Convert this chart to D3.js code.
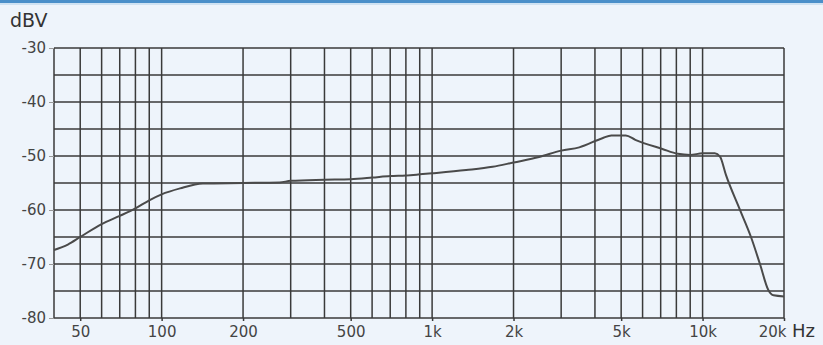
<!DOCTYPE html>
<html><head><meta charset="utf-8">
<script src="https://cdn.jsdelivr.net/npm/d3@7"></script>
<style>html,body{margin:0;padding:0;background:#eef4fb;}svg{display:block;}</style>
</head><body>
<script>
// Data
const freqs = [40, 45, 50, 60, 70, 80, 90, 100, 117, 142, 200, 273, 300, 400, 500, 600, 700, 800, 900, 1000, 1336, 1673, 2000, 2485, 3000, 3500, 4260, 4600, 5200, 5640, 7100, 8100, 9000, 10000, 11100, 11600, 12200, 13700, 15100, 16300, 17500, 18300, 20000];
const dbv = [-67.4, -66.4, -65.0, -62.6, -61.1, -59.7, -58.2, -57.1, -56.0, -55.1, -55.0, -54.9, -54.6, -54.4, -54.3, -54.0, -53.7, -53.6, -53.4, -53.2, -52.6, -52.0, -51.2, -50.2, -49.0, -48.4, -46.7, -46.2, -46.2, -47.0, -48.7, -49.6, -49.8, -49.5, -49.5, -50.1, -53.5, -59.8, -65.0, -70.0, -74.8, -75.8, -76.0];
const gridFreqs = [40, 50, 60, 70, 80, 90, 100, 200, 300, 400, 500, 600, 700, 800, 900, 1000, 2000, 3000, 4000, 5000, 6000, 7000, 8000, 9000, 10000, 20000];
const xTickVals = [50, 100, 200, 500, 1000, 2000, 5000, 10000, 20000];
const xTickLabels = ["50", "100", "200", "500", "1k", "2k", "5k", "10k", "20k"];
const yGrid = [-30, -35, -40, -45, -50, -55, -60, -65, -70, -75, -80];
const yTickVals = [-30, -40, -50, -60, -70, -80];

const W = 823, H = 345;
const svg = d3.select("body").append("svg").attr("width", W).attr("height", H);
svg.append("rect").attr("width", W).attr("height", H).attr("fill", "#eef4fb");
svg.append("rect").attr("width", W).attr("height", 3).attr("fill", "#4a8fc9");
svg.append("rect").attr("y", 3).attr("width", W).attr("height", 2).attr("fill", "#cfe2f2");

const x = d3.scaleLog().domain([40, 20000]).range([54, 784]);
const y = d3.scaleLinear().domain([-80, -30]).range([318, 48]);
const font = "'DejaVu Sans', Verdana, sans-serif";

const g = svg.append("g");
g.selectAll("line.h").data(yGrid).join("line")
  .attr("x1", x(40)).attr("x2", x(20000))
  .attr("y1", d => y(d)).attr("y2", d => y(d))
  .attr("stroke", "#3a3a3a").attr("stroke-width", 1.5);
g.selectAll("line.v").data(gridFreqs).join("line")
  .attr("x1", d => x(d)).attr("x2", d => x(d))
  .attr("y1", y(-30)).attr("y2", y(-80))
  .attr("stroke", "#3a3a3a").attr("stroke-width", 1.5);

// y ticks & labels
const yAxis = d3.axisLeft(y).tickValues(yTickVals).tickSize(5).tickPadding(3).tickFormat(d3.format("d"));
const ya = svg.append("g").attr("transform", `translate(${x(40)},0)`).call(yAxis);
ya.select(".domain").remove();
ya.selectAll(".tick line").attr("stroke", "#999");
ya.selectAll(".tick text").attr("font-family", font).attr("font-size", 15).attr("fill", "#444")
  .text(d => d3.format("d")(d).replace("−", "-"));

// x ticks & labels
const xAxis = d3.axisBottom(x).tickValues(xTickVals).tickSize(3).tickPadding(5)
  .tickFormat((d, i) => xTickLabels[i]);
const xa = svg.append("g").attr("transform", `translate(0,${y(-80)})`).call(xAxis);
xa.select(".domain").remove();
xa.selectAll(".tick line").attr("stroke", "#3a3a3a").attr("stroke-width", 1.5);
xa.selectAll(".tick text").attr("font-family", font).attr("font-size", 15).attr("fill", "#444")
  .filter(d => d === 20000).attr("text-anchor", "end").attr("dx", 2);

// curve
const line = d3.line().x((d, i) => x(freqs[i])).y(d => y(d)).curve(d3.curveMonotoneX);
svg.append("path").attr("d", line(dbv)).attr("fill", "none")
  .attr("stroke", "#4a4a4a").attr("stroke-width", 2);

svg.append("text").attr("x", 10).attr("y", 27).attr("font-family", font).attr("font-size", 19)
  .attr("fill", "#333").text("dBV");
svg.append("text").attr("x", 792).attr("y", 337).attr("font-family", font).attr("font-size", 18)
  .attr("fill", "#333").text("Hz");
</script>
</body></html>
